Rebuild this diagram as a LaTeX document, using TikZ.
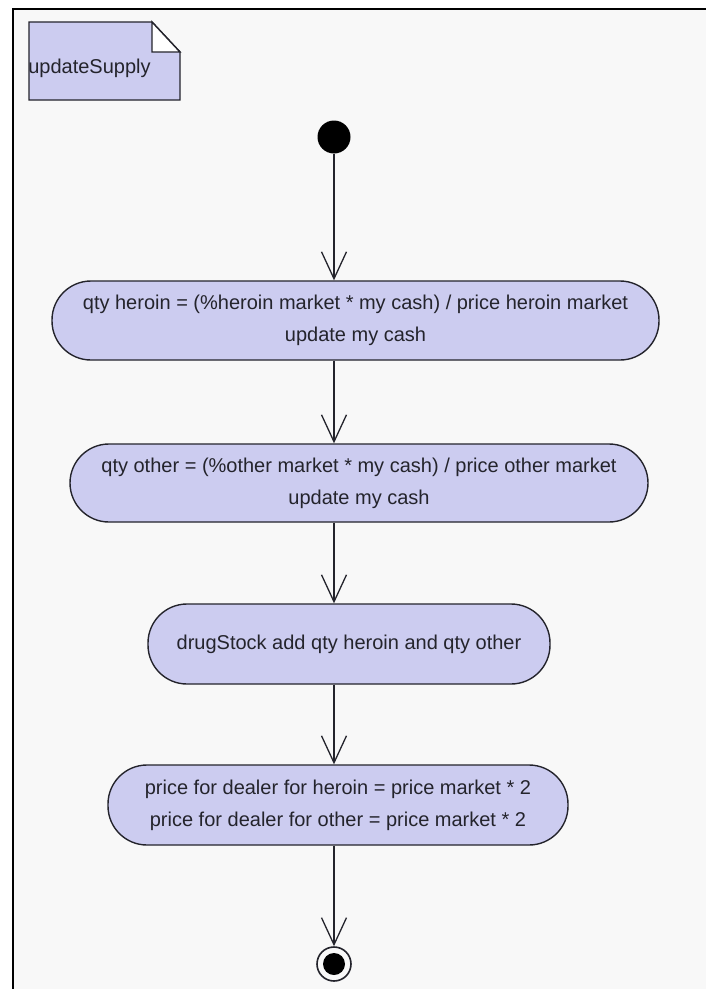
\documentclass[tikz,border=0pt]{standalone}
\usepackage{fontspec}
\setmainfont{Liberation Sans}
\usetikzlibrary{arrows.meta}
\definecolor{actfill}{RGB}{204,204,240}
\definecolor{canvas}{RGB}{248,248,248}
\definecolor{ink}{RGB}{36,36,44}

\begin{document}
\begin{tikzpicture}[x=1pt,y=-1pt,
  action/.style={draw=ink, line width=1.4pt, fill=actfill, rounded corners=39pt,
    align=center, text=ink, font=\fontsize{20}{32}\selectfont, inner sep=0pt},
  flow/.style={draw=ink, line width=1.3pt,
    -{Straight Barb[length=27pt,width=25pt,line width=1.3pt]}},
  label/.style={text=ink, font=\fontsize{20}{24}\selectfont, inner sep=0pt}]

  % page and canvas frame
  \useasboundingbox (0,0) rectangle (706,989);
  \fill[white] (0,0) rectangle (706,989);
  \fill[canvas] (13,9) rectangle (706,989);
  \draw[line width=2.5pt, black] (13,989) -- (13,9) -- (706,9);

  % diagram name note with folded corner
  \filldraw[fill=actfill, draw=ink, line width=1.4pt]
    (29,22) -- (152,22) -- (180,52) -- (180,100) -- (29,100) -- cycle;
  \filldraw[fill=white, draw=ink, line width=1.4pt]
    (152,22) -- (152,52) -- (180,52) -- cycle;
  \node[label] (title) at (89.5,68) {updateSupply};

  % initial state
  \node[circle, fill=black, minimum size=33pt, inner sep=0pt] (start) at (334,137) {};

  % actions
  \node[action, minimum width=607pt, minimum height=79pt] (qh) at (355.5,320.5)
    {qty heroin = (\%heroin market * my cash) / price heroin market\\update my cash};
  \node[action, minimum width=578pt, minimum height=78pt] (qo) at (359,483)
    {qty other = (\%other market * my cash) / price other market\\update my cash};
  \node[action, minimum width=402pt, minimum height=80pt] (ds) at (349,644)
    {drugStock add qty heroin and qty other};
  \node[action, minimum width=460pt, minimum height=80pt] (pr) at (338,805)
    {price for dealer for heroin = price market * 2\\price for dealer for other = price market * 2};

  % final state
  \node[circle, draw=ink, line width=1.6pt, fill=canvas, minimum size=34pt, inner sep=0pt] (end) at (334,964) {};
  \node[circle, fill=black, minimum size=22pt, inner sep=0pt] (endcore) at (end.center) {};

  % control flow
  \draw[flow] (start.south) -- (qh.north -| start);
  \draw[flow] (qh.south -| start) -- (qo.north -| start);
  \draw[flow] (qo.south -| start) -- (ds.north -| start);
  \draw[flow] (ds.south -| start) -- (pr.north -| start);
  \draw[flow] (pr.south -| start) -- (end.north);
\end{tikzpicture}
\end{document}
